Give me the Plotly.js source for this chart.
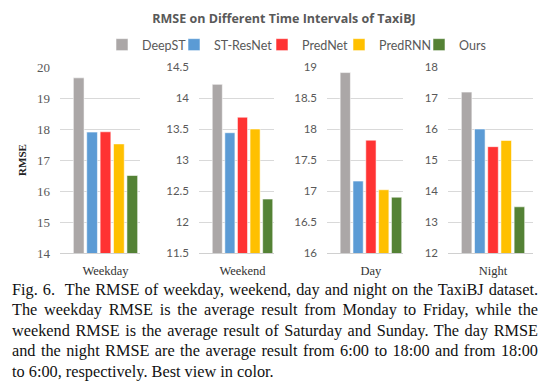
<!DOCTYPE html>
<html>
<head>
<meta charset="utf-8">
<script src="https://cdn.plot.ly/plotly-3.0.1.min.js"></script>
<style>
  html, body { margin: 0; padding: 0; background: #fff; }
  #wrap { position: relative; width: 547px; height: 384px; overflow: hidden; }
  #chart { position: absolute; left: 0; top: 0; width: 547px; height: 384px; }
  #caption {
    position: absolute; left: 12px; top: 280px; width: 526px;
    font-family: "Liberation Serif", "Times New Roman", serif;
    font-size: 16.3px; line-height: 20.4px; color: #111;
  }
  #caption .body { text-align: justify; text-align-last: justify; }
  #caption .tail { text-align: left; }
</style>
</head>
<body>
<div id="wrap">
  <div id="chart"></div>
  <div id="caption"><div class="body">Fig. 6.&nbsp; The RMSE of weekday, weekend, day and night on the TaxiBJ dataset. The weekday RMSE is the average result from Monday to Friday, while the weekend RMSE is the average result of Saturday and Sunday. The day RMSE and the night RMSE are the average result from 6:00 to 18:00 and from 18:00</div><div class="tail">to 6:00, respectively. Best view in color.</div></div>
</div>
<script>
// ---- data ----
const methods = ['DeepST', 'ST-ResNet', 'PredNet', 'PredRNN', 'Ours'];
const intervals = ['Weekday', 'Weekend', 'Day', 'Night'];
const deepST   = [19.65, 14.22, 18.91, 17.19];
const stResNet = [17.90, 13.44, 17.16, 16.00];
const predNet  = [17.91, 13.69, 17.82, 15.43];
const predRNN  = [17.52, 13.50, 17.02, 15.63];
const ours     = [16.50, 12.37, 16.90, 13.49];
const yRanges  = [[14, 20], [11.5, 14.5], [16, 19], [12, 18]];
const yDticks  = [1, 0.5, 0.5, 1];

// ---- styling ----
const colors = ['#ABA7A7', '#5B9BD5', '#FF3333', '#FFC000', '#548235'];
const series = [deepST, stResNet, predNet, predRNN, ours];
const W = 547, H = 384;
const xDomPx = [[60, 140], [199, 274], [327, 403], [448, 533]];
const xRanges = [[-0.679, 0.515], [-0.69, 0.5], [-0.685, 0.5], [-0.682, 0.606]];
const yDom = [1 - 253 / H, 1 - 67 / H];
const legendLeftPx = [102, 174, 262, 339, 419];
const legendNames = ['legend', 'legend2', 'legend3', 'legend4', 'legend5'];

const traces = [];
intervals.forEach((iv, i) => {
  const sfx = i === 0 ? '' : String(i + 1);
  methods.forEach((m, j) => {
    traces.push({
      type: 'bar',
      name: m,
      legendgroup: m,
      legend: legendNames[j],
      showlegend: i === 0,
      x: [iv],
      y: [series[j][i]],
      xaxis: 'x' + sfx,
      yaxis: 'y' + sfx,
      marker: { color: colors[j], line: { color: 'rgba(255,255,255,0.55)', width: 1 } },
      hoverinfo: 'name+y'
    });
  });
});

const layout = {
  width: W, height: H,
  margin: { l: 0, r: 0, t: 0, b: 0 },
  paper_bgcolor: 'rgba(0,0,0,0)',
  plot_bgcolor: 'rgba(0,0,0,0)',
  barmode: 'group',
  bargap: 0,
  bargroupgap: 0.2,
  title: {
    text: '<b>RMSE on Different Time Intervals of TaxiBJ</b>',
    font: { family: 'Open Sans, Lato, sans-serif', size: 12.5, color: '#595959' },
    x: 284 / W, xanchor: 'center', y: 1 - 19 / H, yanchor: 'middle', yref: 'paper'
  },
  showlegend: true
};
legendNames.forEach((ln, j) => {
  layout[ln] = {
    orientation: 'h', x: legendLeftPx[j] / W, xanchor: 'left', y: 1 - 45 / H, yanchor: 'middle',
    font: { family: 'Lato, Open Sans, sans-serif', size: 12.5, color: '#595959' },
    itemwidth: 30, bgcolor: 'rgba(0,0,0,0)', borderwidth: 0
  };
});

intervals.forEach((iv, i) => {
  const sfx = i === 0 ? '' : String(i + 1);
  const serifTicks = i === 0;
  layout['xaxis' + sfx] = {
    domain: [xDomPx[i][0] / W, xDomPx[i][1] / W],
    anchor: 'y' + sfx,
    type: 'category',
    range: xRanges[i],
    showgrid: false, zeroline: false,
    showline: true, linecolor: '#d0d0d0', linewidth: 1,
    ticks: '', ticklabelstandoff: 6,
    tickfont: { family: 'Liberation Serif, serif', size: 12.5, color: '#333' },
    fixedrange: true
  };
  layout['yaxis' + sfx] = {
    domain: yDom,
    anchor: 'x' + sfx,
    range: yRanges[i],
    dtick: yDticks[i], tick0: yRanges[i][0],
    showgrid: true, gridcolor: '#d9d9d9', gridwidth: 1,
    zeroline: false, showline: false,
    ticks: '', ticklabelstandoff: 9,
    tickfont: serifTicks
      ? { family: 'Liberation Serif, serif', size: 13, color: '#595959' }
      : { family: 'Lato, Open Sans, sans-serif', size: 11.5, color: '#595959' },
    fixedrange: true
  };
});
layout.yaxis.title = {
  text: '<b>RMSE</b>',
  font: { family: 'Liberation Serif, serif', size: 11, color: '#222' },
  standoff: 8
};

Plotly.newPlot('chart', traces, layout, { displayModeBar: false, staticPlot: true });
</script>
</body>
</html>
